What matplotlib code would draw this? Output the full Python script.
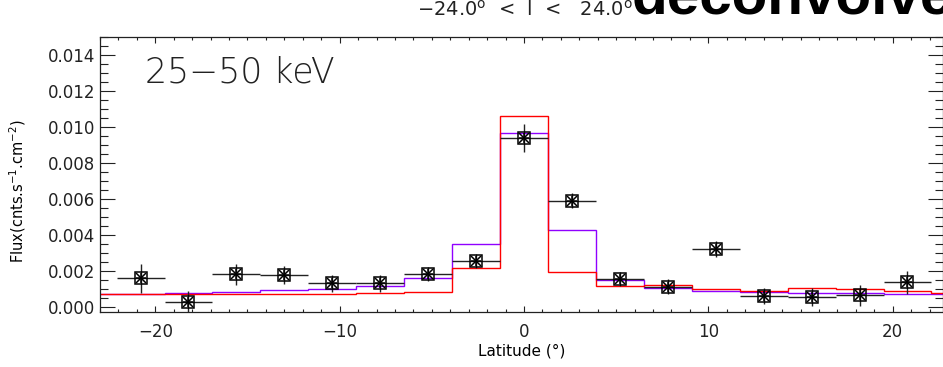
import matplotlib

matplotlib.use("Agg")
import matplotlib.pyplot as plt
import numpy as np
from matplotlib.ticker import MultipleLocator

# latitude bins (deg), 2.6 deg wide, centred on 0
lat = np.array([-20.8, -18.2, -15.6, -13.0, -10.4, -7.8, -5.2, -2.6, 0.0,
                2.6, 5.2, 7.8, 10.4, 13.0, 15.6, 18.2, 20.8])
flux = np.array([0.00162, 0.00032, 0.00184, 0.00179, 0.00134, 0.00134, 0.00186,
                 0.00258, 0.00938, 0.00593, 0.00157, 0.00116, 0.00323, 0.00066,
                 0.00058, 0.00068, 0.00140])
flux_err = np.array([0.00079, 0.00060, 0.00057, 0.00050, 0.00046, 0.00046, 0.00040,
                     0.00040, 0.00077, 0.00042, 0.00040, 0.00040, 0.00044, 0.00044,
                     0.00050, 0.00057, 0.00064])
half_bin = 1.3

# model histograms, one value per bin (bins run past the plot edges)
model_edges = np.arange(-24.7, 24.8, 2.6)
model_purple = [0.00077, 0.00077, 0.00078, 0.00086, 0.00095, 0.00105, 0.00121,
                0.00164, 0.00351, 0.00968, 0.00430, 0.00153, 0.00107, 0.00092,
                0.00084, 0.00079, 0.00079, 0.00077, 0.00077]
model_red = [0.00077, 0.00077, 0.00077, 0.00077, 0.00076, 0.00077, 0.00079,
             0.00086, 0.00218, 0.01062, 0.00196, 0.00121, 0.00123, 0.00103,
             0.00092, 0.00107, 0.00101, 0.00090, 0.00080]

W, H = 943, 367
fig = plt.figure(figsize=(W / 100, H / 100), dpi=100)
ax = fig.add_axes([100 / W, 1 - 312 / H, 842.5 / W, 275 / H])

ax.stairs(model_purple, model_edges, color="#9000ff", lw=1.0)
ax.stairs(model_red, model_edges, color="#ff0000", lw=1.0)

ax.errorbar(lat, flux, xerr=half_bin, yerr=flux_err, fmt="none",
            ecolor="#222222", elinewidth=1.0, capsize=0)
ax.plot(lat, flux, "s", ms=8, mfc="none", mec="black", mew=1.1)
ax.plot(lat, flux, "x", ms=7, color="black", mew=1.1)
ax.plot(lat, flux, "+", ms=7, color="black", mew=1.1)

ax.set_xlim(-23, 22.7)
ax.set_ylim(-0.00025, 0.015)
ax.xaxis.set_major_locator(MultipleLocator(10))
ax.xaxis.set_minor_locator(MultipleLocator(1))
ax.yaxis.set_major_locator(MultipleLocator(0.002))
ax.yaxis.set_minor_locator(MultipleLocator(0.0005))
ax.yaxis.set_major_formatter(matplotlib.ticker.FormatStrFormatter("%.3f"))
ax.tick_params(which="both", direction="in", top=True, right=True,
               labelsize=12, width=0.8, colors="#222222")
ax.tick_params(axis="y", which="major", length=11)
ax.tick_params(axis="y", which="minor", length=6)
ax.tick_params(axis="x", which="major", length=4.5, pad=8)
ax.tick_params(axis="x", which="minor", length=2.3)
for s in ax.spines.values():
    s.set_linewidth(0.9)
    s.set_color("#222222")

ax.set_xlabel("Latitude (°)", fontsize=11, labelpad=2)
ax.set_ylabel("Flux(cnts.s$^{-1}$.cm$^{-2}$)", fontsize=10.5)
ax.yaxis.set_label_coords(-0.085, 0.44)
ax.text(0.053, 0.87, "25−50 keV", transform=ax.transAxes, fontsize=25,
        fontweight="light", color="#222222", va="center")

fig.text(525 / W, 1 - 16 / H, "−24.0$^{\\rm o}$  <  l  <   24.0$^{\\rm o}$",
         ha="center", va="baseline", fontsize=14, color="#222222")
fig.text(632 / W, 1 - 13 / H, "deconvolved", ha="left", va="baseline",
         fontsize=42, fontweight="bold", family="Liberation Sans", color="black")

fig.savefig("out.png", dpi=100)
